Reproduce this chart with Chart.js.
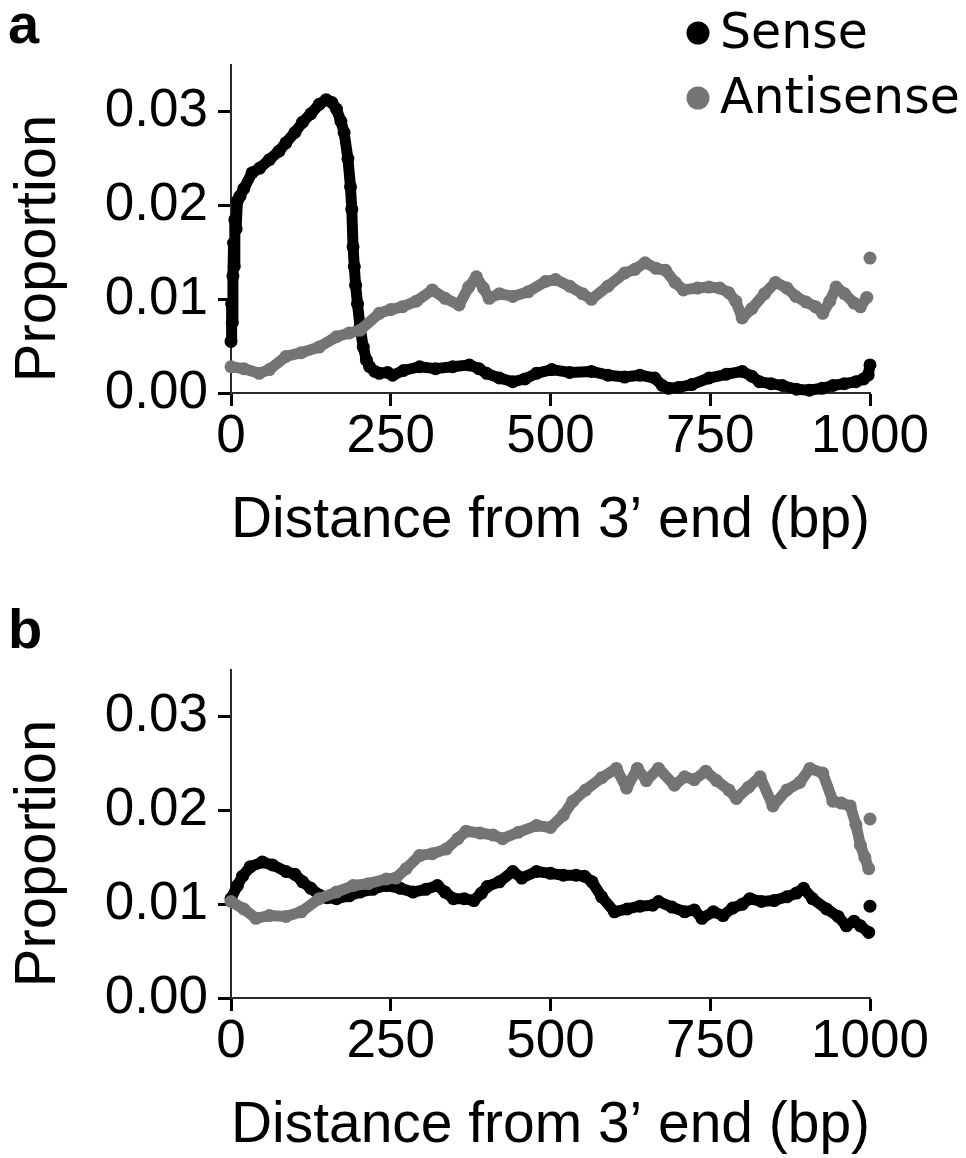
<!DOCTYPE html>
<html>
<head>
<meta charset="utf-8">
<script src="https://cdn.jsdelivr.net/npm/chart.js@4.4.1/dist/chart.umd.min.js"></script>
<style>
  html, body { margin: 0; padding: 0; background: #fff; overflow: hidden; }
  .panel { position: absolute; left: 0; width: 966px; height: 560px; }
  #panelA { top: 0; }
  #panelB { top: 605px; }
</style>
</head>
<body>
<div class="panel" id="panelA"><canvas id="chartA" width="966" height="560"></canvas></div>
<div class="panel" id="panelB"><canvas id="chartB" width="966" height="560"></canvas></div>
<script>
const seriesLabels = ["Sense", "Antisense"];
const seriesColors = ["#000000", "#747474"];
const xTicks = [0, 250, 500, 750, 1000];
const yTicks = [0, 0.01, 0.02, 0.03];

// panel a
const senseA_bp = [0, 1, 2, 3, 4, 5, 6, 8, 10, 14, 20, 33, 45, 60, 75, 86, 100, 112, 125, 138, 149, 158, 165, 172, 177, 183, 187, 189, 191, 193, 195, 198, 202, 207, 212, 217, 225, 232, 245, 253, 270, 295, 320, 347, 373, 388, 400, 420, 441, 460, 478, 502, 530, 564, 590, 616, 640, 663, 675, 685, 700, 721, 748, 775, 800, 815, 827, 845, 863, 885, 905, 925, 942, 960, 978, 990, 997, 1000];
const senseA_val = [0.0055, 0.0095, 0.0075, 0.0125, 0.016, 0.0135, 0.0185, 0.0175, 0.0205, 0.021, 0.0218, 0.0235, 0.024, 0.0249, 0.0258, 0.0267, 0.0278, 0.0289, 0.0298, 0.0308, 0.0313, 0.031, 0.0303, 0.029, 0.0278, 0.025, 0.022, 0.0196, 0.0156, 0.0135, 0.0115, 0.0095, 0.007, 0.0049, 0.0035, 0.0028, 0.0023, 0.0021, 0.0022, 0.0019, 0.0024, 0.0028, 0.0026, 0.0028, 0.003, 0.0026, 0.0021, 0.0016, 0.0012, 0.0015, 0.0021, 0.0025, 0.0022, 0.0023, 0.0019, 0.0017, 0.0019, 0.0016, 0.0008, 0.0005, 0.0006, 0.0009, 0.0016, 0.002, 0.0023, 0.0018, 0.0012, 0.001, 0.0008, 0.0004, 0.0003, 0.0005, 0.0008, 0.001, 0.0012, 0.0015, 0.0019, 0.003];
const antiA_bp = [0, 20, 44, 60, 86, 110, 138, 165, 185, 202, 232, 250, 268, 290, 315, 335, 357, 372, 384, 395, 404, 420, 441, 465, 492, 508, 530, 550, 564, 590, 616, 632, 648, 665, 680, 695, 708, 730, 748, 765, 779, 790, 800, 815, 835, 852, 870, 884, 900, 915, 926, 937, 947, 960, 975, 985, 995];
const antiA_val = [0.0028, 0.0026, 0.0021, 0.0025, 0.0039, 0.0043, 0.0049, 0.006, 0.0064, 0.0067, 0.0085, 0.0089, 0.0092, 0.0098, 0.011, 0.0101, 0.0094, 0.0113, 0.0124, 0.0112, 0.0101, 0.0106, 0.0103, 0.0108, 0.0119, 0.0121, 0.0114, 0.0106, 0.01, 0.0114, 0.0128, 0.0132, 0.0139, 0.0133, 0.0131, 0.0118, 0.011, 0.0112, 0.0113, 0.0112, 0.0107, 0.0098, 0.008, 0.009, 0.0106, 0.0118, 0.0112, 0.0103, 0.0097, 0.0092, 0.0085, 0.0098, 0.0113, 0.0106, 0.0096, 0.0092, 0.0102];
const antiA_end_bp = [1000];
const antiA_end_val = [0.0144];

// panel b
const senseB_bp = [0, 10, 18, 30, 49, 65, 86, 100, 112, 125, 138, 150, 165, 185, 202, 222, 243, 265, 285, 305, 323, 335, 348, 365, 380, 392, 401, 420, 441, 455, 478, 500, 520, 540, 553, 565, 580, 600, 620, 640, 660, 669, 690, 710, 725, 737, 755, 770, 785, 800, 812, 830, 850, 870, 885, 896, 910, 932, 950, 963, 975, 985, 998];
const senseB_val = [0.0106, 0.012, 0.013, 0.014, 0.0145, 0.0142, 0.0135, 0.0132, 0.0124, 0.0117, 0.011, 0.0107, 0.0106, 0.0109, 0.0113, 0.0116, 0.012, 0.0117, 0.0113, 0.0116, 0.012, 0.0113, 0.0106, 0.0106, 0.0104, 0.0112, 0.0119, 0.0124, 0.0135, 0.0128, 0.0135, 0.0133, 0.0131, 0.0131, 0.013, 0.0124, 0.0108, 0.0092, 0.0095, 0.0098, 0.0099, 0.0103, 0.0097, 0.0092, 0.0094, 0.0085, 0.0092, 0.0088, 0.0096, 0.01, 0.0106, 0.0103, 0.0104, 0.0108, 0.0112, 0.0117, 0.0106, 0.0095, 0.0087, 0.0077, 0.0082, 0.0077, 0.007];
const senseB_end_bp = [1000];
const senseB_end_val = [0.0098];
const antiB_bp = [0, 20, 39, 60, 86, 110, 138, 165, 191, 215, 243, 258, 274, 295, 315, 337, 355, 368, 390, 410, 425, 450, 478, 500, 520, 535, 555, 580, 603, 619, 636, 650, 669, 694, 710, 725, 743, 760, 779, 791, 810, 828, 848, 870, 890, 906, 926, 942, 955, 969, 978, 985, 992, 998];
const antiB_val = [0.0103, 0.0095, 0.0085, 0.0088, 0.0087, 0.0092, 0.0106, 0.0113, 0.012, 0.0122, 0.0127, 0.0128, 0.0138, 0.0152, 0.0154, 0.0159, 0.017, 0.0178, 0.0176, 0.0174, 0.017, 0.0177, 0.0184, 0.0182, 0.0195, 0.021, 0.0222, 0.0235, 0.0245, 0.0224, 0.0245, 0.0232, 0.0245, 0.0227, 0.0236, 0.0233, 0.0242, 0.0232, 0.0222, 0.0213, 0.0225, 0.0236, 0.0205, 0.0222, 0.023, 0.0245, 0.024, 0.021, 0.0208, 0.0205, 0.0185, 0.0163, 0.015, 0.0138];
const antiB_end_bp = [1000];
const antiB_end_val = [0.0191];

const AXIS_FONT = "'Liberation Sans', Arial, Helvetica, sans-serif";
const LEGEND_FONT = "'DejaVu Sans', Verdana, sans-serif";

function pts(xs, ys) {
  return xs.map((x, i) => ({ x, y: ys[i] }));
}

function lineSet(label, color, xs, ys) {
  return {
    label, data: pts(xs, ys),
    showLine: true, borderColor: color, borderWidth: 11,
    borderJoinStyle: "round", borderCapStyle: "round",
    backgroundColor: color, pointRadius: 6.5, pointBorderWidth: 0,
    clip: false
  };
}

function dotSet(color, xs, ys) {
  return {
    label: "", data: pts(xs, ys), showLine: false,
    backgroundColor: color, pointRadius: 6.5, pointBorderWidth: 0, clip: false
  };
}

const panelText = {
  id: "panelText",
  afterDraw(chart, args, opts) {
    const { ctx } = chart;
    const y = chart.scales.y;
    ctx.save();
    ctx.fillStyle = "#000";
    ctx.font = "bold 56px " + AXIS_FONT;
    ctx.textAlign = "left";
    ctx.textBaseline = "alphabetic";
    ctx.fillText(opts.letter, 8, 43);

    // y title, centred on the tick range
    const mid = (y.getPixelForValue(yTicks[0]) + y.getPixelForValue(yTicks[yTicks.length - 1])) / 2 - 4;
    ctx.translate(55, mid);
    ctx.rotate(-Math.PI / 2);
    ctx.font = "58px " + AXIS_FONT;
    ctx.textAlign = "center";
    ctx.fillText("Proportion", 0, 0);
    ctx.restore();

    if (opts.legend) {
      ctx.save();
      ctx.font = "49px " + LEGEND_FONT;
      ctx.textBaseline = "alphabetic";
      seriesLabels.forEach((lab, i) => {
        const cy = 33 + i * 65;
        ctx.fillStyle = seriesColors[i];
        ctx.beginPath();
        ctx.arc(698, cy, 11.5, 0, Math.PI * 2);
        ctx.fill();
        ctx.fillStyle = "#000";
        ctx.fillText(lab, 720, cy + 15);
      });
      ctx.restore();
    }
  }
};

function makeChart(id, letter, legend, datasets) {
  return new Chart(document.getElementById(id), {
    type: "scatter",
    data: { datasets },
    options: {
      responsive: false,
      animation: false,
      events: [],
      layout: { padding: { top: 65, right: 96, left: 0, bottom: 0 } },
      plugins: {
        legend: { display: false },
        tooltip: { enabled: false },
        panelText: { letter, legend }
      },
      scales: {
        x: {
          type: "linear", min: 0, max: 1000,
          afterBuildTicks: s => { s.ticks = xTicks.map(v => ({ value: v })); },
          afterFit: s => { s.height = 560 - 393; },
          grid: { display: true, drawOnChartArea: false, drawTicks: true, tickLength: 13, tickWidth: 3, tickColor: "#000" },
          border: { display: true, color: "#2a2a2a", width: 2 },
          ticks: {
            color: "#000", font: { family: AXIS_FONT, size: 53 }, padding: 0, maxRotation: 0,
            callback: v => String(v)
          },
          title: {
            display: true, text: "Distance from 3\u2019 end (bp)", color: "#000",
            font: { family: AXIS_FONT, size: 58 }, padding: { top: 0, bottom: 4 }
          }
        },
        y: {
          type: "linear", min: 0, max: 0.035,
          afterBuildTicks: s => { s.ticks = yTicks.map(v => ({ value: v })); },
          afterFit: s => { s.width = 231; },
          grid: { display: true, drawOnChartArea: false, drawTicks: true, tickLength: 13, tickWidth: 3, tickColor: "#000" },
          border: { display: true, color: "#2a2a2a", width: 2 },
          ticks: {
            color: "#000", font: { family: AXIS_FONT, size: 53 }, padding: 10,
            callback: v => Number(v).toFixed(2)
          }
        }
      }
    },
    plugins: [panelText]
  });
}

makeChart("chartA", "a", true, [
  lineSet(seriesLabels[1], seriesColors[1], antiA_bp, antiA_val),
  dotSet(seriesColors[1], antiA_end_bp, antiA_end_val),
  lineSet(seriesLabels[0], seriesColors[0], senseA_bp, senseA_val)
]);

makeChart("chartB", "b", false, [
  lineSet(seriesLabels[1], seriesColors[1], antiB_bp, antiB_val),
  dotSet(seriesColors[1], antiB_end_bp, antiB_end_val),
  lineSet(seriesLabels[0], seriesColors[0], senseB_bp, senseB_val),
  dotSet(seriesColors[0], senseB_end_bp, senseB_end_val)
]);
</script>
</body>
</html>
